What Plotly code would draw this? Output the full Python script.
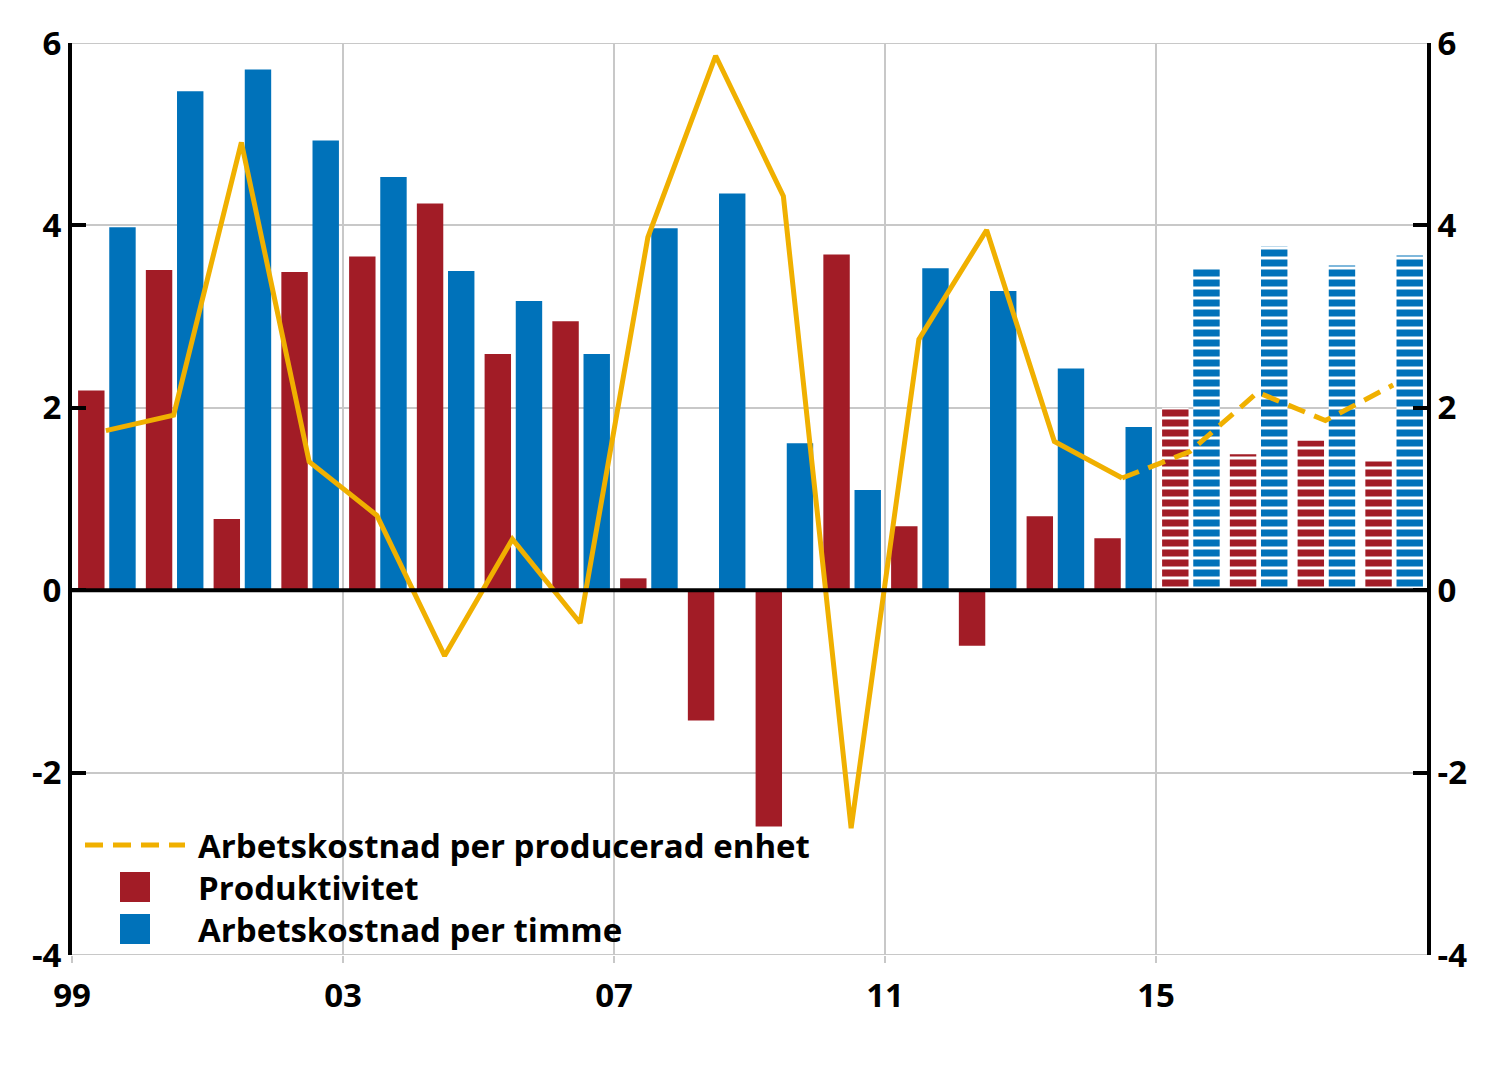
import plotly.graph_objects as go

years = list(range(1999, 2019))
produktivitet = [2.19, 3.51, 0.78, 3.49, 3.66, 4.24, 2.59, 2.95, 0.13, -1.43,
                 -2.59, 3.68, 0.70, -0.61, 0.81, 0.57, 2.00, 1.49, 1.64, 1.41]
kostnad_timme = [3.98, 5.47, 5.71, 4.93, 4.53, 3.50, 3.17, 2.59, 3.97, 4.35,
                 1.61, 1.10, 3.53, 3.28, 2.43, 1.79, 3.53, 3.77, 3.56, 3.67]
kostnad_enhet = [1.75, 1.92, 4.91, 1.41, 0.82, -0.72, 0.56, -0.36, 3.87, 5.86,
                 4.32, -2.61, 2.75, 3.95, 1.63, 1.23, 1.52, 2.17, 1.86, 2.25]
forecast_start = 2015
tick_vals = [1999, 2003, 2007, 2011, 2015]
tick_text = ["99", "03", "07", "11", "15"]
y_ticks = [-4, -2, 0, 2, 4, 6]
legend_names = ["Arbetskostnad per producerad enhet", "Produktivitet", "Arbetskostnad per timme"]

RED = "#A21C26"
BLUE = "#0072BA"
YEL = "#F0B000"
GRID = "#C8C8C8"
FONT = "Open Sans"
FS = 33

OFF = 8  # page body margin
W, H = 1500, 1083
PL, PT, PR, PB = 72, 43, 1427, 955  # target plot box in window pixels
L, T = PL - OFF, PT - OFF
R, B = W - (PR - OFF), H - (PB - OFF)
PW, PH = PR - PL, PB - PT


def px(x):
    return (x - PL) / PW


def py(y):
    return (PB - y) / PH


xc = [y + 0.5 for y in years]
shapes_pat = ["-" if y >= forecast_start else "" for y in years]

fig = go.Figure()

solid_idx = [i for i, y in enumerate(years) if y <= forecast_start - 1]
dash_idx = [i for i, y in enumerate(years) if y >= forecast_start - 1]

fig.add_trace(go.Bar(
    x=xc, y=produktivitet, width=0.39, offset=-0.41,
    marker=dict(color=RED, line=dict(width=0),
                pattern=dict(shape=shapes_pat, fgcolor="white", bgcolor=RED,
                             size=10, solidity=0.3, fillmode="replace")),
    name=legend_names[1], showlegend=False))
fig.add_trace(go.Bar(
    x=xc, y=kostnad_timme, width=0.39, offset=0.05,
    marker=dict(color=BLUE, line=dict(width=0),
                pattern=dict(shape=shapes_pat, fgcolor="white", bgcolor=BLUE,
                             size=10, solidity=0.3, fillmode="replace")),
    name=legend_names[2], showlegend=False))
fig.add_trace(go.Scatter(
    x=[xc[i] for i in solid_idx], y=[kostnad_enhet[i] for i in solid_idx],
    mode="lines", line=dict(color=YEL, width=5),
    showlegend=False))
fig.add_trace(go.Scatter(
    x=[xc[i] for i in dash_idx], y=[kostnad_enhet[i] for i in dash_idx],
    mode="lines", line=dict(color=YEL, width=5, dash="18px,10px"),
    name=legend_names[0], showlegend=False))
# dummy trace for right axis
fig.add_trace(go.Scatter(x=[1999], y=[0], yaxis="y2", mode="markers",
                         marker=dict(opacity=0), showlegend=False, hoverinfo="skip"))

tickfont = dict(family=FONT, size=FS, color="black", weight="bold")

shapes = [
    dict(type="line", xref="paper", yref="y", x0=0, x1=1, y0=6, y1=6,
         line=dict(color=GRID, width=2), layer="below"),
    dict(type="line", xref="paper", yref="y", x0=0, x1=1, y0=-4, y1=-4,
         line=dict(color=GRID, width=2), layer="below"),
    dict(type="line", xref="paper", yref="y", x0=0, x1=1, y0=0, y1=0,
         line=dict(color="black", width=4), layer="above"),
    dict(type="line", xref="paper", yref="paper", x0=px(85), x1=px(185),
         y0=py(845), y1=py(845), line=dict(color=YEL, width=5, dash="18px,10px")),
    dict(type="rect", xref="paper", yref="paper", x0=px(120), x1=px(150),
         y0=py(872), y1=py(902), fillcolor=RED, line=dict(width=0)),
    dict(type="rect", xref="paper", yref="paper", x0=px(120), x1=px(150),
         y0=py(914), y1=py(944), fillcolor=BLUE, line=dict(width=0)),
]
annotations = [
    dict(xref="paper", yref="paper", x=px(196), y=py(ly), text=name,
         showarrow=False, xanchor="left", yanchor="middle",
         font=dict(family=FONT, size=FS, color="black", weight="bold"))
    for name, ly in zip(legend_names, [845, 887, 929])
]

fig.update_layout(
    width=W, height=H,
    margin=dict(l=L, r=R, t=T, b=B),
    plot_bgcolor="white", paper_bgcolor="white",
    barmode="overlay",
    showlegend=False,
    shapes=shapes, annotations=annotations,
    xaxis=dict(range=[1999, 2019], tickvals=tick_vals, ticktext=tick_text,
               showgrid=True, gridcolor=GRID, gridwidth=2,
               ticks="outside", ticklen=7, tickcolor=GRID, tickwidth=2,
               ticklabelstandoff=4,
               tickfont=tickfont, showline=False, zeroline=False, automargin=False),
    yaxis=dict(range=[-4, 6], tickvals=y_ticks, ticktext=[str(v) for v in y_ticks],
               showgrid=True, gridcolor=GRID, gridwidth=2,
               zeroline=False,
               showline=True, linecolor="black", linewidth=4,
               ticks="inside", ticklen=14, tickwidth=4, tickcolor="black",
               tickfont=tickfont, automargin=False),
    yaxis2=dict(range=[-4, 6], tickvals=y_ticks, ticktext=[str(v) for v in y_ticks],
                overlaying="y", side="right", showgrid=False, zeroline=False,
                showline=True, linecolor="black", linewidth=4,
                ticks="inside", ticklen=14, tickwidth=4, tickcolor="black",
                tickfont=tickfont, automargin=False),
)

fig.write_html("out.html")
